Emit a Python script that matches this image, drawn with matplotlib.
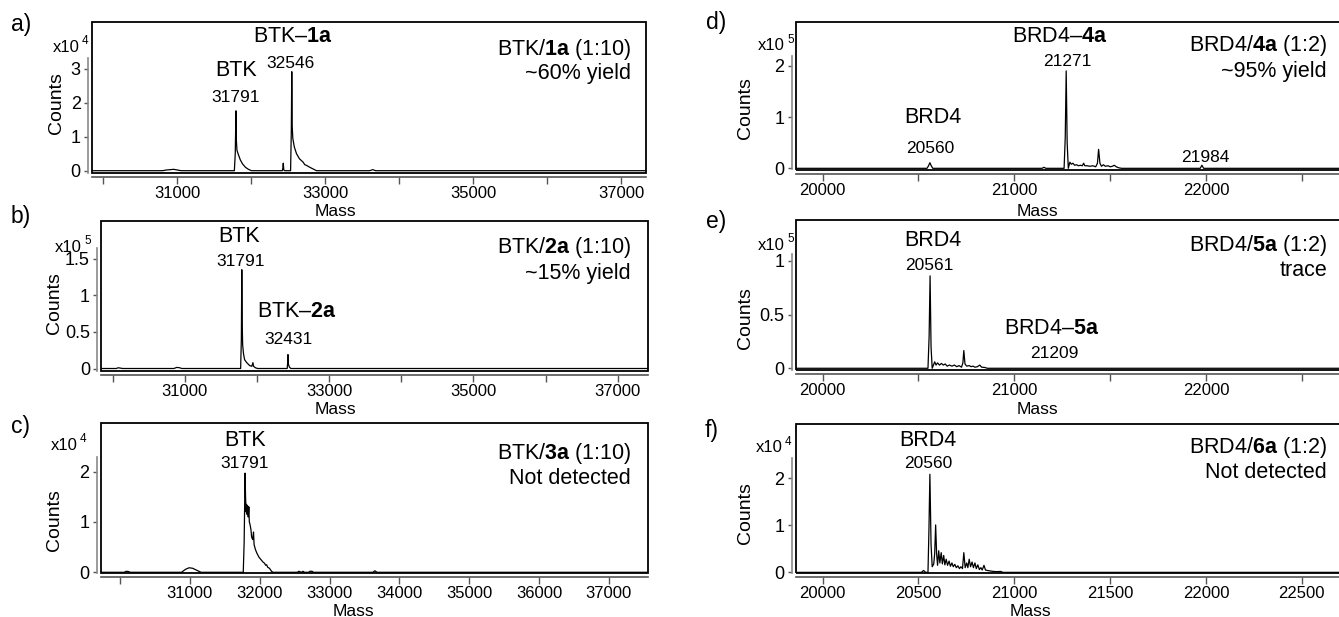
import matplotlib
matplotlib.use("Agg")
import matplotlib.pyplot as plt
from matplotlib.patches import Rectangle

plt.rcParams['font.family'] = ['Liberation Sans', 'DejaVu Sans']
plt.rcParams['mathtext.fontset'] = 'custom'
plt.rcParams['mathtext.rm'] = 'Liberation Sans'
plt.rcParams['mathtext.bf'] = 'Liberation Sans:bold'

# ---------------- data (mass in Da, counts in units of the panel multiplier) ----
mass_a = [29843, 30800, 30850, 30900, 30950, 31000, 31050, 31770, 31782, 31788, 31791,
          31797, 31805, 31820, 31850, 31880, 31920, 31960, 32000, 32418, 32426, 32431,
          32438, 32450, 32530, 32540, 32546, 32552, 32560, 32580, 32610, 32650, 32700,
          32720, 32750, 32790, 32835, 32880, 33600, 33640, 33680, 37334]
counts_a = [0, 0, 0.02, 0.03, 0.04, 0.02, 0, 0, 0.5, 1.3, 1.76,
            0.9, 0.6, 0.5, 0.32, 0.2, 0.1, 0.04, 0, 0, 0.08, 0.22,
            0.02, 0, 0, 1.2, 2.91, 1.3, 0.95, 0.7, 0.5, 0.35, 0.25,
            0.18, 0.15, 0.1, 0.05, 0, 0, 0.03, 0, 0]

mass_b = [29840, 30050, 30080, 30110, 30140, 30850, 30890, 30930, 30960, 31775, 31785,
          31791, 31797, 31803, 31815, 31830, 31860, 31880, 31900, 31930, 31945, 31955,
          31980, 32010, 32420, 32427, 32431, 32437, 32450, 32470, 37420]
counts_b = [0, 0, 0.01, 0.005, 0, 0, 0.015, 0.01, 0, 0, 0.4,
            1.35, 0.6, 0.32, 0.2, 0.12, 0.08, 0.06, 0.04, 0.03, 0.08, 0.03,
            0.01, 0, 0, 0.08, 0.19, 0.06, 0.02, 0, 0]

mass_c = [29724, 30060, 30090, 30120, 30150, 30880, 30940, 30990, 31040, 31100, 31160,
          31765, 31778, 31791, 31798, 31805, 31812, 31820, 31828, 31836, 31845, 31852,
          31862, 31875, 31885, 31900, 31912, 31920, 31940, 31960, 31990, 32020, 32050,
          32070, 32085, 32100, 32115, 32140, 32170, 32190, 32540, 32560, 32600, 32620,
          32640, 32700, 32720, 32750, 32770, 33620, 33650, 33680, 37560]
counts_c = [0, 0, 0.02, 0.015, 0, 0, 0.06, 0.09, 0.08, 0.04, 0,
            0, 0.6, 1.97, 1.5, 1.2, 1.35, 1.15, 1.32, 1.1, 1.3, 1.0,
            0.95, 0.85, 0.7, 0.65, 0.8, 0.55, 0.45, 0.38, 0.3, 0.25, 0.2,
            0.18, 0.14, 0.15, 0.1, 0.08, 0.02, 0, 0, 0.02, 0, 0.02,
            0, 0, 0.02, 0.02, 0, 0, 0.03, 0, 0]

mass_d = [19860, 20545, 20553, 20560, 20567, 20575, 21145, 21155, 21165, 21260, 21266,
          21271, 21276, 21282, 21290, 21298, 21306, 21315, 21325, 21335, 21345, 21355,
          21362, 21368, 21380, 21395, 21410, 21425, 21434, 21440, 21447, 21455, 21465,
          21475, 21490, 21500, 21512, 21522, 21532, 21545, 21560, 21970, 21979, 21988,
          22814]
counts_d = [0, 0, 0.05, 0.11, 0.05, 0, 0, 0.02, 0, 0, 0.6,
            1.9, 0.5, 0, 0.12, 0.08, 0.1, 0.06, 0.07, 0.05, 0.06, 0.05,
            0.1, 0.05, 0.05, 0.04, 0.05, 0.03, 0.1, 0.37, 0.1, 0.04, 0.07,
            0.04, 0.05, 0.03, 0.04, 0.06, 0.03, 0.01, 0, 0, 0.06, 0,
            0]

mass_e = [19860, 20550, 20556, 20561, 20566, 20572, 20585, 20592, 20600, 20610, 20620,
          20630, 20640, 20650, 20662, 20675, 20688, 20700, 20712, 20725, 20732, 20737,
          20743, 20752, 20765, 20775, 20785, 20795, 20808, 20820, 20830, 20845, 20860,
          22814]
counts_e = [0, 0, 0.3, 0.86, 0.2, 0, 0.06, 0.03, 0.05, 0.03, 0.045,
            0.03, 0.04, 0.02, 0.03, 0.02, 0.03, 0.015, 0.025, 0.01, 0.05, 0.165,
            0.04, 0.02, 0.025, 0.015, 0.02, 0.01, 0.015, 0.03, 0.01, 0.008, 0,
            0]

mass_f = [19860, 20515, 20527, 20538, 20550, 20555, 20560, 20566, 20572, 20580, 20585,
          20590, 20595, 20600, 20606, 20612, 20619, 20625, 20632, 20638, 20645, 20652,
          20660, 20667, 20675, 20682, 20690, 20698, 20706, 20714, 20722, 20730, 20737,
          20744, 20752, 20758, 20765, 20772, 20780, 20787, 20795, 20802, 20810, 20818,
          20826, 20833, 20842, 20850, 20860, 20875, 20890, 20910, 20930, 20940, 22814]
counts_f = [0, 0, 0.04, 0, 0, 0.9, 2.09, 0.6, 0.12, 0.18, 0.4,
            1.01, 0.4, 0.15, 0.46, 0.2, 0.42, 0.18, 0.36, 0.16, 0.28, 0.15,
            0.24, 0.13, 0.2, 0.12, 0.17, 0.1, 0.14, 0.08, 0.12, 0.08, 0.42,
            0.1, 0.2, 0.1, 0.28, 0.12, 0.22, 0.1, 0.2, 0.08, 0.16, 0.06,
            0.1, 0.05, 0.15, 0.05, 0.04, 0.03, 0.02, 0.015, 0.02, 0, 0]

yticks_a = [0, 1, 2, 3]
yticks_b = [0, 0.5, 1, 1.5]
yticks_c = [0, 1, 2]
yticks_d = [0, 1, 2]
yticks_e = [0, 0.5, 1]
yticks_f = [0, 1, 2]

xticks_btk = [30000, 31000, 32000, 33000, 34000, 35000, 36000, 37000]
xlabels_ab = ['', '31000', '', '33000', '', '35000', '', '37000']
xlabels_c = ['', '31000', '32000', '33000', '34000', '35000', '36000', '37000']
xticks_brd = [20000, 20500, 21000, 21500, 22000, 22500]
xlabels_de = ['20000', '', '21000', '', '22000', '']
xlabels_f = ['20000', '20500', '21000', '21500', '22000', '22500']

# ---------------- figure ----------------
W, H = 1339, 617
fig = plt.figure(figsize=(W / 100, H / 100), dpi=100)


def ftxt(x, y, s, **kw):
    kw.setdefault('ha', 'center')
    kw.setdefault('va', 'center')
    return fig.text(x / W, 1 - y / H, s, **kw)


def panel(box, xlim, ylim, mass, counts, yticks, ytop, xticks, xlabels):
    l, t, r, b = box
    ax = fig.add_axes([l / W, 1 - b / H, (r - l) / W, (b - t) / H])
    ax.plot(mass, counts, color='black', lw=0.9)
    ax.set_xlim(*xlim)
    ax.set_ylim(*ylim)
    for s in ('top', 'right'):
        ax.spines[s].set_visible(False)
    ax.spines['left'].set_position(('outward', 3))
    ax.spines['left'].set_bounds(ylim[0], ytop)
    ax.spines['left'].set_color('#8a8a8a')
    ax.spines['left'].set_linewidth(1.2)
    ax.spines['bottom'].set_position(('outward', 3))
    ax.spines['bottom'].set_color('#555555')
    ax.spines['bottom'].set_linewidth(1.2)
    ax.add_patch(Rectangle((0, 0), 1, 1, transform=ax.transAxes, fill=False,
                           ec='black', lw=1.3, clip_on=False, zorder=5))
    ax.set_yticks(yticks)
    ax.set_yticklabels([('%g' % v) for v in yticks])
    ax.set_xticks(xticks)
    ax.set_xticklabels(xlabels)
    ax.tick_params(axis='y', length=3, width=1, color='#555555', pad=2,
                   labelsize=13)
    ax.tick_params(axis='x', length=5, width=1, color='#555555', pad=1.5,
                   labelsize=12)
    ax.patch.set_alpha(0)
    return ax


BIG = 15.5
NUM = 12.5
XR = 22814

panel((91.8, 21.7, 646, 172.7), (29843, 37334), (-0.059, 4.38), mass_a, counts_a,
      yticks_a, 3.3, xticks_btk, xlabels_ab)
panel((101, 220.7, 648, 370.7), (29840, 37420), (-0.03, 2.02), mass_b, counts_b,
      yticks_b, 1.65, xticks_btk, xlabels_ab)
panel((100.7, 423.3, 648, 573.3), (29724, 37560), (-0.02, 2.96), mass_c, counts_c,
      yticks_c, 2.3, xticks_btk, xlabels_c)
panel((795.7, 21.7, 1362, 169.5), (19860, XR), (-0.023, 2.86), mass_d, counts_d,
      yticks_d, 2.2, xticks_brd, xlabels_de)
panel((795.7, 220, 1362, 370), (19860, XR), (-0.016, 1.38), mass_e, counts_e,
      yticks_e, 1.06, xticks_brd, xlabels_de)
panel((795.7, 424, 1362, 573.3), (19860, XR), (-0.02, 3.16), mass_f, counts_f,
      yticks_f, 2.43, xticks_brd, xlabels_f)

# panel letters
for s, x, y in [('a)', 21, 24), ('b)', 21, 217), ('c)', 21, 427),
                ('d)', 716, 22), ('e)', 716, 221), ('f)', 712, 431)]:
    ftxt(x, y, s, fontsize=16.5)

# multipliers
for x, y, e in [(80, 47, '4'), (82, 247, '5'), (78, 445, '4'),
                (785, 46, '5'), (785, 245, '5'), (783, 448, '4')]:
    ftxt(x, y, 'x10', fontsize=12, ha='right')
    ftxt(x + 2, y - 6, e, fontsize=8.5, ha='left')

# axis labels
for x, y in [(57, 103), (55, 303), (55, 520), (745, 108), (745, 318), (745, 513)]:
    ftxt(x, y, 'Counts', fontsize=14, rotation=90)
for x, y in [(335, 212), (335, 409), (353, 611), (1037, 211), (1037, 409), (1030, 611)]:
    ftxt(x, y, 'Mass', fontsize=12.5)

# peak annotations
ann = [
    ('BTK–$\\mathbf{1a}$', 293, 37, BIG), ('32546', 290, 63, NUM),
    ('BTK', 236, 70, BIG), ('31791', 236, 97, NUM),
    ('BTK', 239, 237, BIG), ('31791', 241, 262, NUM),
    ('BTK–$\\mathbf{2a}$', 297, 312, BIG), ('32431', 288, 339, NUM),
    ('BTK', 245, 441, BIG), ('31791', 245, 463, NUM),
    ('BRD4–$\\mathbf{4a}$', 1060, 37, BIG), ('21271', 1067, 62, NUM),
    ('BRD4', 933, 118, BIG), ('20560', 930, 148, NUM), ('21984', 1205, 157, NUM),
    ('BRD4', 933, 240, BIG), ('20561', 929, 265, NUM),
    ('BRD4–$\\mathbf{5a}$', 1052, 329, BIG), ('21209', 1054, 353, NUM),
    ('BRD4', 928, 440, BIG), ('20560', 928, 463, NUM),
]
for s, x, y, fs in ann:
    ftxt(x, y, s, fontsize=fs)

# conditions
cond = [
    ('BTK/$\\mathbf{1a}$ (1:10)', 631, 49), ('~60% yield', 631, 73),
    ('BTK/$\\mathbf{2a}$ (1:10)', 631, 248), ('~15% yield', 631, 273),
    ('BTK/$\\mathbf{3a}$ (1:10)', 631, 454), ('Not detected', 631, 478),
    ('BRD4/$\\mathbf{4a}$ (1:2)', 1327, 45), ('~95% yield', 1327, 71),
    ('BRD4/$\\mathbf{5a}$ (1:2)', 1327, 245), ('trace', 1327, 271),
    ('BRD4/$\\mathbf{6a}$ (1:2)', 1327, 448), ('Not detected', 1327, 473),
]
for s, x, y in cond:
    ftxt(x, y, s, fontsize=BIG, ha='right')

fig.savefig('out.png', dpi=100)
